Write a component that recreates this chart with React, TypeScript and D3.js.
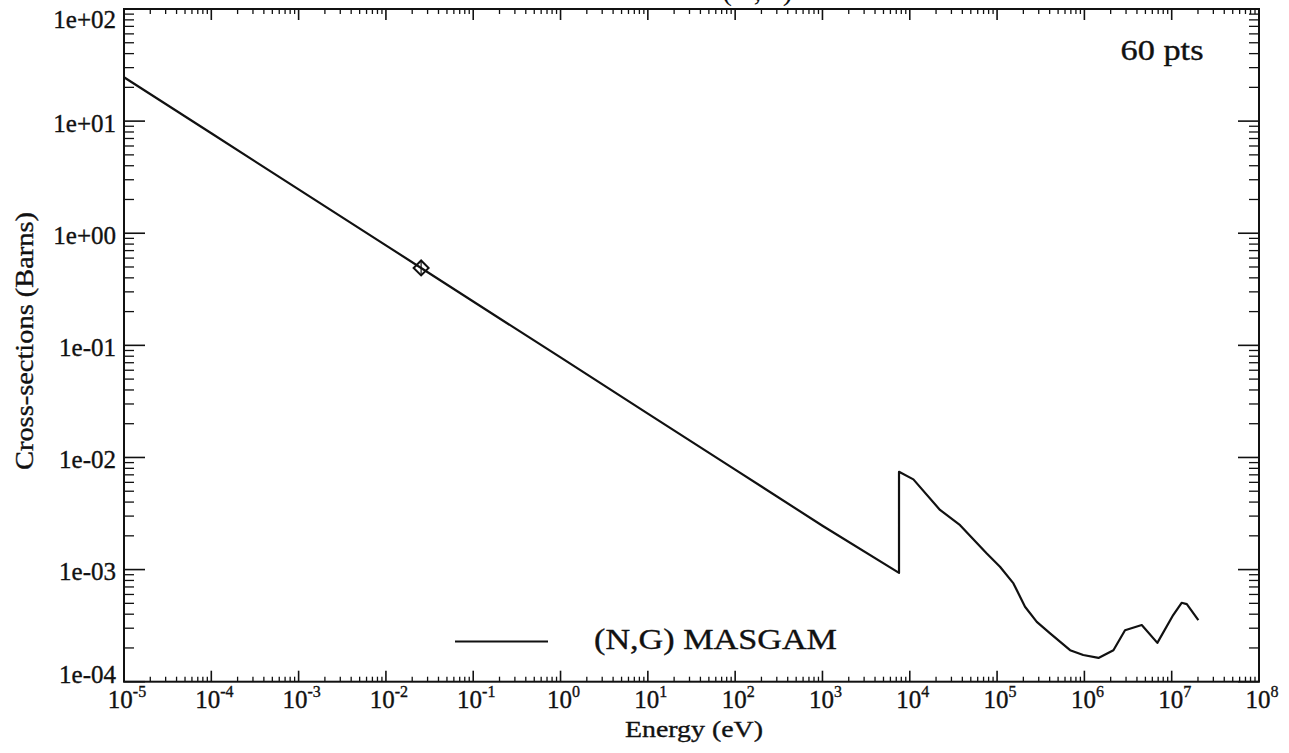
import React from "react";
import * as d3 from "d3";

// ---- data ----
const energyEV: number[] = [
  1e-5, 1e-4, 1e-3, 1e-2, 0.0253, 0.1, 1, 10, 100, 1000, 7530, 7530, 1.1e4,
  2.22e4, 3.77e4, 7.62e4, 1.08e5, 1.54e5, 2.09e5, 2.85e5, 4.05e5, 6.86e5,
  9.7e5, 1.45e6, 2.15e6, 2.92e6, 4.54e6, 6.85e6, 1.04e7, 1.3e7, 1.49e7, 2.02e7,
];
const crossSection: number[] = [
  24.6, 7.8, 2.46, 0.78, 0.49, 0.246, 0.078, 0.0246, 0.0078, 0.00246, 9.35e-4,
  7.45e-3, 6.38e-3, 3.4e-3, 2.49e-3, 1.39e-3, 1.06e-3, 7.53e-4, 4.66e-4,
  3.42e-4, 2.7e-4, 1.91e-4, 1.73e-4, 1.63e-4, 1.91e-4, 2.88e-4, 3.2e-4,
  2.22e-4, 3.93e-4, 5.06e-4, 4.92e-4, 3.54e-4,
];
const markerEnergy: number[] = [0.0253];
const markerValue: number[] = [0.49];
const xExponents: number[] = [-5, -4, -3, -2, -1, 0, 1, 2, 3, 4, 5, 6, 7, 8];
const yTickLabels: string[] = ["1e+02", "1e+01", "1e+00", "1e-01", "1e-02", "1e-03", "1e-04"];
const yTickValues: number[] = [1e2, 1e1, 1e0, 1e-1, 1e-2, 1e-3, 1e-4];
const legendLabel = "(N,G) MASGAM";
const pointsLabel = "60 pts";
const titleText = "(N,G)";
const xTitle = "Energy (eV)";
const yTitle = "Cross-sections (Barns)";

const W = 1289;
const H = 753;
const L = 124;
const R = 1259;
const T = 9;
const B = 681.7;
const FONT = "'Liberation Serif', 'DejaVu Serif', serif";

export default function App() {
  const x = d3.scaleLog().domain([1e-5, 1e8]).range([L, R]);
  const y = d3.scaleLog().domain([1e-4, 1e2]).range([B, T]);

  const xMinor: number[] = [];
  for (let e = -5; e < 8; e++) for (let k = 2; k <= 9; k++) xMinor.push(k * Math.pow(10, e));
  const yMinor: number[] = [];
  for (let e = -4; e < 2; e++) for (let k = 2; k <= 9; k++) yMinor.push(k * Math.pow(10, e));

  const pts: [number, number][] = energyEV.map((e, i) => [e, crossSection[i]]);
  const line = d3
    .line<[number, number]>()
    .x((d) => x(d[0]))
    .y((d) => y(d[1]));

  const diamond = d3.symbol(d3.symbolSquare, 112)();

  const ink = "#111";
  const ts = { stroke: ink, strokeWidth: 0.35 } as const;

  return (
    <svg
      width={W}
      height={H}
      style={{ position: "absolute", left: 0, top: 0, background: "#fff" }}
      fontFamily={FONT}
    >
      <rect x={0} y={0} width={W} height={H} fill="#fff" />
      {/* cut-off title (cut at the top edge as in the reference) */}
      <text x={722} y={0} fontSize={30} fill={ink}>
        {titleText}
      </text>

      {/* frame */}
      <rect x={L} y={T} width={R - L} height={B - T} fill="none" stroke={ink} strokeWidth={2} />

      {/* x ticks bottom & top */}
      {xExponents.map((e) => (
        <g key={"xM" + e}>
          <line x1={x(Math.pow(10, e))} x2={x(Math.pow(10, e))} y1={B} y2={B - 11} stroke={ink} strokeWidth={1.6} />
          <line x1={x(Math.pow(10, e))} x2={x(Math.pow(10, e))} y1={T} y2={T + 11} stroke={ink} strokeWidth={1.6} />
        </g>
      ))}
      {xMinor.map((v, i) => (
        <g key={"xm" + i}>
          <line x1={x(v)} x2={x(v)} y1={B} y2={B - 5} stroke={ink} strokeWidth={1.3} />
          <line x1={x(v)} x2={x(v)} y1={T} y2={T + 5} stroke={ink} strokeWidth={1.3} />
        </g>
      ))}

      {/* y ticks left & right */}
      {yTickValues.map((v, i) => (
        <g key={"yM" + i}>
          <line x1={L} x2={L + 21} y1={y(v)} y2={y(v)} stroke={ink} strokeWidth={1.6} />
          <line x1={R} x2={R - 21} y1={y(v)} y2={y(v)} stroke={ink} strokeWidth={1.6} />
        </g>
      ))}
      {yMinor.map((v, i) => (
        <g key={"ym" + i}>
          <line x1={L} x2={L + 10} y1={y(v)} y2={y(v)} stroke={ink} strokeWidth={1.3} />
          <line x1={R} x2={R - 10} y1={y(v)} y2={y(v)} stroke={ink} strokeWidth={1.3} />
        </g>
      ))}

      {/* x tick labels */}
      {xExponents.map((e) => (
        <text key={"xl" + e} x={x(Math.pow(10, e)) + 3} y={707.5} fontSize={25} textAnchor="middle" fill={ink} {...ts}>
          10
          <tspan fontSize={16} dy={-11}>
            {String(e)}
          </tspan>
        </text>
      ))}

      {/* y tick labels */}
      {yTickValues.map((v, i) => {
        const cy = Math.min(Math.max(y(v) + 2, 19), 674);
        return (
          <text key={"yl" + i} x={116} y={cy + 8.5} fontSize={25} textAnchor="end" fill={ink} {...ts}>
            {yTickLabels[i]}
          </text>
        );
      })}

      {/* axis titles */}
      <text x={625} y={737} fontSize={24} textLength={138} lengthAdjust="spacingAndGlyphs" fill={ink} {...ts}>
        {xTitle}
      </text>
      <text
        transform={`translate(33,341) rotate(-90)`}
        fontSize={25}
        textAnchor="middle"
        textLength={258}
        lengthAdjust="spacingAndGlyphs"
        fill={ink}
        {...ts}
      >
        {yTitle}
      </text>

      {/* data line */}
      <path d={line(pts) || ""} fill="none" stroke={ink} strokeWidth={2.2} strokeLinejoin="round" />

      {/* marker */}
      {markerEnergy.map((e, i) => (
        <g key={"mk" + i} transform={`translate(${x(e)},${y(markerValue[i])})`}>
          <path d={diamond || ""} transform="rotate(45)" fill="none" stroke={ink} strokeWidth={2} />
          <line x1={0} x2={0} y1={-7} y2={7} stroke={ink} strokeWidth={1.2} />
        </g>
      ))}

      {/* legend */}
      <line x1={455} x2={548} y1={641.5} y2={641.5} stroke={ink} strokeWidth={2} />
      <text x={594} y={648.5} fontSize={30} textLength={243} lengthAdjust="spacingAndGlyphs" fill={ink} {...ts}>
        {legendLabel}
      </text>

      {/* points annotation */}
      <text x={1120.5} y={59.5} fontSize={30} textLength={83} lengthAdjust="spacingAndGlyphs" fill={ink} {...ts}>
        {pointsLabel}
      </text>
    </svg>
  );
}
